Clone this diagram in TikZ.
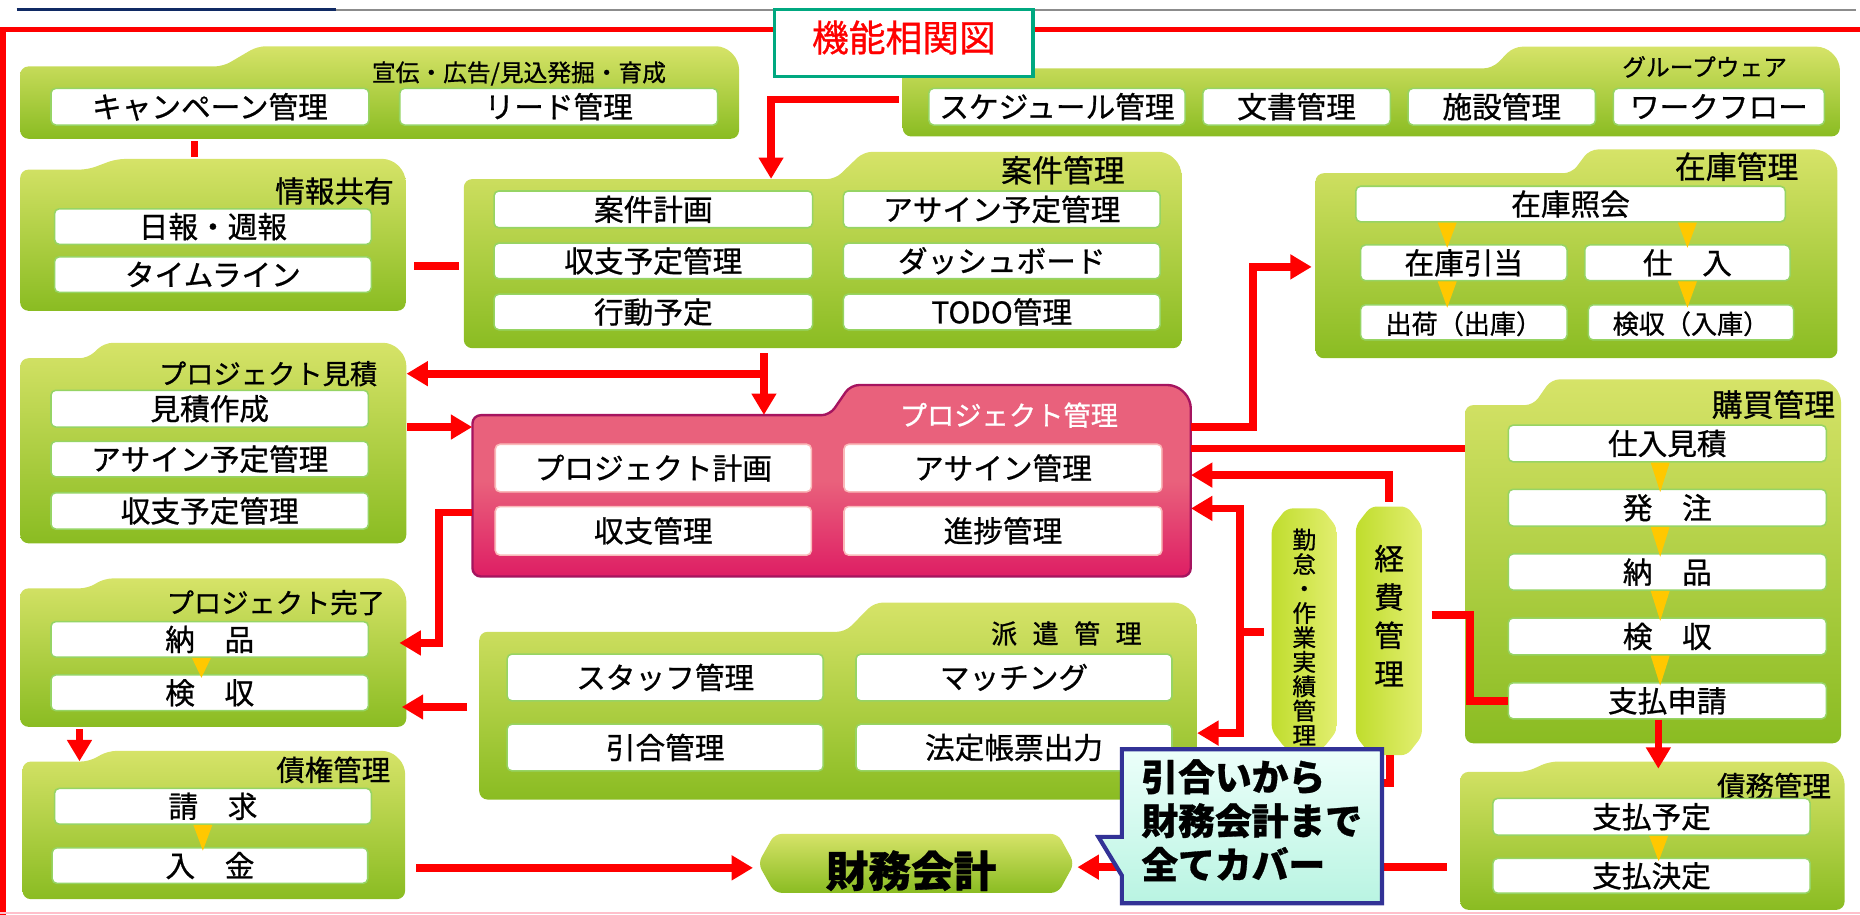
\documentclass[tikz,border=0pt]{standalone}
\usepackage{fontspec}
\setmainfont{Noto Sans CJK JP}[FakeBold=0.8]
\usetikzlibrary{arrows.meta,calc}
\definecolor{gTop}{RGB}{214,227,104}
\definecolor{gBot}{RGB}{138,188,34}
\definecolor{subG}{RGB}{150,212,100}
\definecolor{pmTop}{RGB}{233,97,124}
\definecolor{pmBot}{RGB}{222,30,100}
\definecolor{pmLine}{RGB}{165,20,95}
\definecolor{pmSub}{RGB}{250,185,185}
\definecolor{redc}{RGB}{255,0,0}
\definecolor{yel}{RGB}{255,200,0}
\definecolor{myTeal}{RGB}{0,168,128}
\definecolor{myNavy}{RGB}{16,42,100}
\definecolor{myGray}{RGB}{140,140,140}
\definecolor{coTop}{RGB}{236,255,250}
\definecolor{coBot}{RGB}{185,244,226}
\definecolor{coLine}{RGB}{50,50,150}
\definecolor{capL}{RGB}{192,221,45}
\definecolor{capR}{RGB}{226,238,112}
\definecolor{pinkl}{RGB}{255,192,203}
\newcommand\myfs[1]{\fontsize{#1}{#1}\selectfont}
\tikzset{
  folderG/.style={shade, top color=gTop, bottom color=gBot, rounded corners=7pt},
  folderP/.style={shade, top color=pmTop, bottom color=pmBot, middle color=pmTop, draw=pmLine, line width=2pt, rounded corners=7pt},
  sbox/.style={draw=subG, line width=1.3pt, fill=white, rounded corners=4pt, inner sep=0pt, font=\myfs{25}, text height=20.75pt, text depth=1.75pt},
  psbox/.style={sbox, draw=pmSub},
  redline/.style={draw=redc, line width=6.5pt},
  redarrow/.style={redline, -{Triangle[length=18pt,width=20pt]}},
  redboth/.style={redline, {Triangle[length=18pt,width=20pt]}-{Triangle[length=18pt,width=20pt]}},
  yarrow/.style={fill=yel},
  capsl/.style={shade, left color=capL, right color=capR, rounded corners=5pt},
}
% folder: name, style, L, R, T(tab top), B(body top), Bo(bottom), X, X2 (tab slope)
\newcommand\folder[9]{%
  \path[#2] (#3,#7) -- (#3,#6) -- (#8,#6) -- (#9,#5) -- ({#4-12},#5) -- (#4,{#5+12}) -- (#4,#7) -- cycle;
  \node[inner sep=0pt, minimum width={#4-#3}, minimum height={#7-#6}] (#1) at ({(#3+#4)/2},{(#6+#7)/2}) {};
  \coordinate (#1-tt) at (#4,#5);}
% sub box: [style] name x1 x2 y1 y2 text
\newcommand\sbx[7][sbox]{\node[#1, minimum width={#4-#3}, minimum height={#6-#5}] (#2) at ({(#3+#4)/2},{(#5+#6)/2}) {#7};}
% title: [colour] name pos size text
\newcommand\ttl[5][black]{\pgfmathsetmacro\tth{0.83*#4}\pgfmathsetmacro\ttd{0.07*#4}%
  \node[inner sep=0pt, text=#1, font=\myfs{#4}, text height=\tth pt, text depth=\ttd pt] (#2) at (#3) {#5};}
% yellow arrow: [xshift] upper lower
\newcommand\yarr[3][0]{\fill[yarrow] ($(#3.north |- #2.south)+({#1-8},0)$) -- ($(#3.north |- #2.south)+({#1+8},0)$) -- ($(#3.north)+(#1,3)$) -- cycle;}
% capsule: name L R T Bo
\newcommand\capsl[5]{%
  \path[capsl] (#2,{#4+16}) -- ({#2+12.5},#4) -- ({#3-12.5},#4) -- (#3,{#4+16}) -- (#3,{#5-16}) -- ({#3-12.5},#5) -- ({#2+12.5},#5) -- (#2,{#5-16}) -- cycle;
  \node[inner sep=0pt, minimum width={#3-#2}, minimum height={#5-#4}] (#1) at ({(#2+#3)/2},{(#4+#5)/2}) {};}
\begin{document}
\begin{tikzpicture}[x=1pt,y=-1pt]
\useasboundingbox (0,0) rectangle (1568,771);
% top rules and frame
\draw[myNavy, line width=2.5pt] (14,8.4) -- (283,8.4);
\draw[myGray, line width=2.3pt] (283,8.4) -- (1565,8.4);
\draw[redc, line width=4.5pt] (2.5,771) -- (2.5,25) -- (1568,25);
\draw[pinkl, line width=1.5pt] (0,769.5) -- (1568,769.5);

% folders
\folder{fSenden}{folderG}{17}{623}{39}{56}{117}{188}{217}
\folder{fJoho}{folderG}{17}{342}{134}{143}{262}{74}{98}
\folder{fAnken}{folderG}{391}{996}{128}{151}{293.5}{704}{728}
\folder{fGW}{folderG}{761}{1551}{39.4}{57.6}{115}{1258}{1276}
\folder{fZaiko}{folderG}{1109}{1549}{126}{146}{302}{1325}{1340}
\folder{fMitsumori}{folderG}{17}{342.5}{289}{302}{458}{74}{88}
\folder{fPM}{folderP}{398.3}{1003.8}{324.6}{350}{486}{699.5}{717}
\folder{fKanryo}{folderG}{17}{342.5}{487.6}{496}{612.7}{74}{88}
\folder{fHaken}{folderG}{404}{1009}{508}{532.6}{674}{712.6}{737}
\folder{fSaiken}{folderG}{19}{341.5}{633}{642}{758}{75}{91}
\folder{fKobai}{folderG}{1235}{1552}{319.8}{341.5}{626.6}{1292.6}{1307.7}
\folder{fSaimu}{folderG}{1231}{1555}{642}{650.7}{767}{1287}{1306}

% folder titles
\ttl{tSenden}{437.5,61}{20}{宣伝・広告/見込発掘・育成}
\ttl{tJoho}{282,161}{25}{情報共有}
\ttl{tAnken}{896,143.5}{26}{案件管理}
\ttl{tGW}{1437,56.5}{20}{グループウェア}
\ttl{tZaiko}{1464,140.5}{26}{在庫管理}
\ttl{tMitsumori}{226,315}{23}{プロジェクト見積}
\ttl[white]{tPM}{850.5,350}{23}{プロジェクト管理}
\ttl{tKanryo}{232.5,508}{23}{プロジェクト完了}
\ttl{tHaken}{899,534}{22}{派\hspace{13pt}遣\hspace{13pt}管\hspace{13pt}理}
\ttl{tKobai}{1495,341}{26}{購買管理}
\ttl{tSaiken}{281,649}{24}{債権管理}
\ttl{tSaimu}{1495.5,662.6}{24}{債務管理}

% sub boxes
\sbx{sCampaign}{43}{311}{74.5}{105.4}{キャンペーン管理}
\sbx{sLead}{337}{605}{74.5}{105.4}{リード管理}
\sbx{sNippo}{46}{313}{176}{206}{日報・週報}
\sbx{sTimeline}{46}{313}{216.5}{246.5}{タイムライン}
\sbx{sAnkenKeikaku}{416.5}{685}{161}{192}{案件計画}
\sbx{sAssignYotei}{711}{978}{161}{192}{アサイン予定管理}
\sbx{sShushiYotei}{416.5}{685}{205}{235}{収支予定管理}
\sbx{sDash}{711}{978}{205}{235}{ダッシュボード}
\sbx{sKodo}{416.5}{685}{248}{278}{行動予定}
\sbx{sTodo}{711}{978}{248}{278}{TODO管理}
\sbx{sSched}{783}{999}{74.5}{105.4}{スケジュール管理}
\sbx{sBunsho}{1014}{1172}{74.5}{105.4}{文書管理}
\sbx{sShisetsu}{1187}{1345}{74.5}{105.4}{施設管理}
\sbx{sWF}{1360}{1538}{74.5}{105.4}{ワークフロー}
\sbx{sShokai}{1143}{1505}{157}{187}{在庫照会}
\sbx{sHikiate}{1147}{1321}{206.5}{236.6}{在庫引当}
\sbx{sShiire}{1336}{1509}{206.5}{236.6}{仕　入}
\sbx[sbox,font=\myfs{22}]{sShukka}{1147}{1321}{257}{286.6}{出荷（出庫）}
\sbx[sbox,font=\myfs{22}]{sKenshuZ}{1339}{1512}{257}{286.6}{検収（入庫）}
\sbx{sMitsuSakusei}{43}{310.6}{329}{360}{見積作成}
\sbx{sAssignYotei2}{43}{310.6}{372}{402}{アサイン予定管理}
\sbx{sShushiYotei2}{43}{310.6}{415.4}{446}{収支予定管理}
\sbx[psbox]{sPMKeikaku}{417.5}{684}{374.5}{414.6}{プロジェクト計画}
\sbx[psbox]{sAssign}{711.5}{979.5}{374.5}{414.6}{アサイン管理}
\sbx[psbox]{sShushi}{417.5}{684}{427}{468}{収支管理}
\sbx[psbox]{sShinchoku}{711.5}{979.5}{427}{468}{進捗管理}
\sbx{sNohin}{43}{310.6}{524}{554}{納　品}
\sbx{sKenshu}{43}{310.6}{569}{599}{検　収}
\sbx{sStaff}{427.5}{694}{551.4}{590.8}{スタッフ管理}
\sbx{sMatch}{721.6}{988}{551.4}{590.8}{マッチング}
\sbx{sHikiai}{427.5}{694}{610.5}{649.8}{引合管理}
\sbx{sHotei}{721.6}{988}{610.5}{649.8}{法定帳票出力}
\sbx{sSeikyu}{46}{313}{664.6}{694.8}{請　求}
\sbx{sNyukin}{44}{310}{714.7}{744.7}{入　金}
\sbx{sShiireMitsu}{1271.5}{1539.6}{358.4}{389.3}{仕入見積}
\sbx{sHatchu}{1271.5}{1539.6}{412.5}{443.5}{発　注}
\sbx{sNohin2}{1271.5}{1539.6}{467}{497.5}{納　品}
\sbx{sKenshu2}{1271.5}{1539.6}{521}{552}{検　収}
\sbx{sShiharaiShinsei}{1271.5}{1539.6}{575.6}{606}{支払申請}
\sbx{sShiharaiYotei}{1258.5}{1526}{673}{704}{支払予定}
\sbx{sShiharaiKettei}{1258.5}{1526}{723.6}{753}{支払決定}

% yellow arrows
\yarr[-14]{sShokai}{sHikiate}
\yarr{sShokai}{sShiire}
\yarr[-14]{sHikiate}{sShukka}
\yarr[-3]{sShiire}{sKenshuZ}
\yarr[-6]{sShiireMitsu}{sHatchu}
\yarr[-6]{sHatchu}{sNohin2}
\yarr[-6]{sNohin2}{sKenshu2}
\yarr[-6]{sKenshu2}{sShiharaiShinsei}
\yarr[-7]{sNohin}{sKenshu}
\yarr[-6]{sSeikyu}{sNyukin}
\yarr[6]{sShiharaiYotei}{sShiharaiKettei}

% 財務会計
\path[shade, top color=gTop, bottom color=gBot, rounded corners=6pt] (639,727.9) -- (653,703) -- (892,703) -- (905.6,727.9) -- (892,752.7) -- (653,752.7) -- cycle;
\node[inner sep=0pt, minimum width=266.6, minimum height=49.7] (zaimu) at (772.3,727.9) {};
\node[inner sep=0pt, font=\myfs{36}\bfseries, text height=29.9pt, text depth=2.5pt] (zaimuText) at (768,734) {財務会計};

% capsules
\capsl{kintai}{1072}{1127}{428.6}{632}
\node[inner sep=0pt, align=center, font={\fontsize{20}{20.6}\selectfont}] (kintaiText) at (1099.5,537) {勤\\怠\\・\\作\\業\\実\\績\\管\\理};
\capsl{keihi}{1143}{1198.7}{427}{636.6}
\node[inner sep=0pt, align=center, font={\fontsize{25}{32.4}\selectfont}] (keihiText) at (1171,519) {経\\費\\管\\理};

% connectors
\draw[redline, shorten <=2pt, shorten >=2pt] (fSenden.south -| 164,0) -- (fJoho-tt -| 164,0);
\draw[redline, shorten <=7pt, shorten >=4pt] (fJoho.east |- 0,224) -- (fAnken.west |- 0,224);
\draw[redarrow, shorten <=3pt] (fGW.west |- 0,84) -- (650,84) -- (fAnken.north -| 650,0);
\draw[redarrow, shorten <=4pt] (fAnken.south -| 644,0) -- (fPM.north -| 644,0);
\draw[redarrow] (644,315) -- (fMitsumori.east |- 0,315);
\draw[redarrow] (fMitsumori.east |- 0,360) -- (fPM.west |- 0,360);
\draw[redarrow, shorten >=3pt] (fPM.east |- 0,360) -- (1056.5,360) -- (1056.5,225) -- (fZaiko.west |- 0,225);
\draw[redarrow, shorten >=-6pt] (fPM.west |- 0,432) -- (370,432) -- (370,542) -- (fKanryo.east |- 0,542);
\draw[redarrow, shorten <=10pt, shorten >=-4pt] (fHaken.west |- 0,596) -- (fKanryo.east |- 0,596);
\draw[redarrow, shorten <=2pt] (fKanryo.south -| 67,0) -- (fSaiken.north -| 67,0);
\draw[redarrow, shorten <=9pt, shorten >=4pt] (fSaiken.east |- 0,731.6) -- (zaimu.west |- 0,731.6);
\draw[redarrow, shorten <=11pt, shorten >=2.5pt] (fSaimu.west |- 0,731) -- (zaimu.east |- 0,731);
\draw[redarrow, shorten <=4pt] (keihi.north) -- (keihi.north |- 0,400.5) -- (fPM.east |- 0,400.5);
\draw[redboth] (fPM.east |- 0,428.6) -- (1045.5,428.6) -- (1045.5,618) -- (fHaken.east |- 0,618);
\draw[redline, shorten >=6pt] (1045.5,532.6) -- (kintai.west |- 0,532.6);
\draw[redline] (fPM.east |- 0,378) -- (fKobai.west |- 0,378);
\draw[redline, shorten <=8pt] (keihi.east |- 0,518.6) -- (1239.5,518.6) -- (1239.5,590.8) -- (sShiharaiShinsei.west |- 0,590.8);
\draw[redarrow, shorten >=-6pt] (sShiharaiShinsei.south -| 1398,0) -- (fSaimu-tt -| 1398,0);
\draw[redline] (keihi.south -| 1172,0) -- (1172,660) -- (1150,660);

% title box
\node[draw=myTeal, line width=3pt, fill=white, minimum width=218, minimum height=56.6, inner sep=0pt, text=redc, font=\myfs{31}, text height=25.7pt, text depth=11.5pt] (title) at (762,36.3) {機能相関図};

% callout
\path[shade, top color=coTop, bottom color=coBot, draw=coLine, line width=3.5pt, line join=miter] (945.7,631.6) -- (1165,631.6) -- (1165,761.5) -- (945.7,761.5) -- (945.7,738) -- (926,705.5) -- (945.7,705.5) -- cycle;
\node[inner sep=0pt, minimum width=219.3, minimum height=129.9] (callout) at (1055.35,696.55) {};
\node[inner sep=0pt, anchor=west, align=left, font={\fontsize{31}{37}\selectfont\bfseries}] (calloutText) at (962,691.5) {引合いから\\財務会計まで\\全てカバー};
\end{tikzpicture}
\end{document}
